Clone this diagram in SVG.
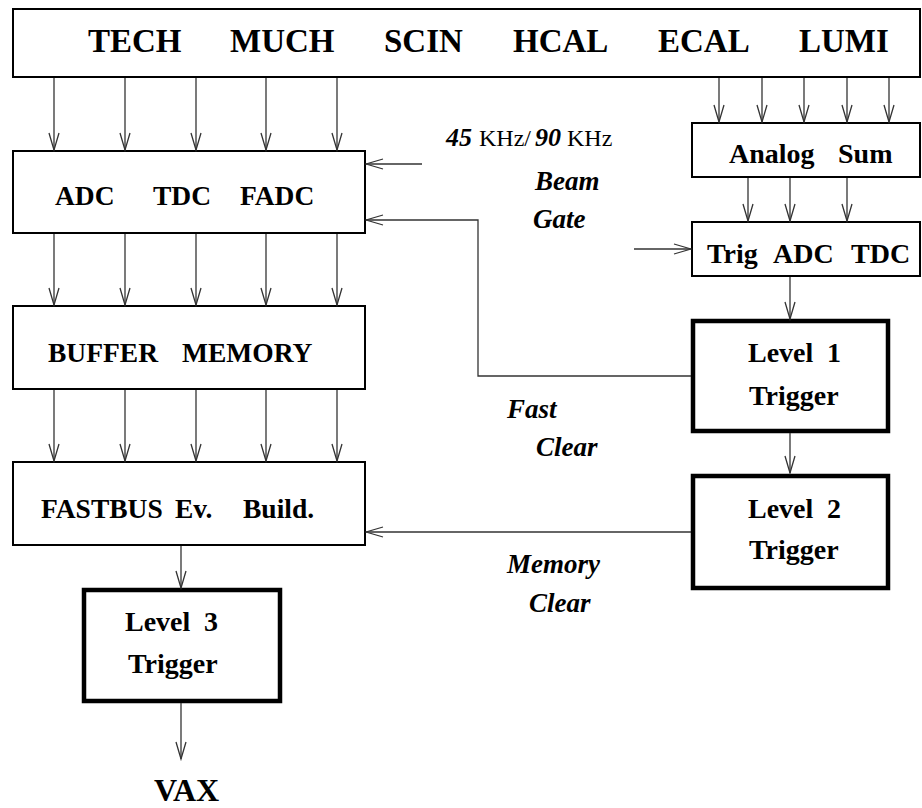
<svg xmlns="http://www.w3.org/2000/svg" width="922" height="808" viewBox="0 0 922 808" font-family="Liberation Serif, Tinos, Times New Roman, DejaVu Serif, serif">
<style>
.box{fill:#fff;stroke:#000;stroke-width:2}
.thick{fill:#fff;stroke:#000;stroke-width:4.5}
.lbl{font-weight:bold;font-size:27.5px;fill:#000}
.top{font-size:33px}
.lvl{font-size:28px}
.it{font-weight:bold;font-style:italic;font-size:27px;fill:#000}
.rm{font-size:24px;fill:#000}
.c{fill:none;stroke:#333;stroke-width:1.3;marker-end:url(#ah)}
</style>
<defs>
<marker id="ah" markerUnits="userSpaceOnUse" markerWidth="20" markerHeight="14" viewBox="-18 -7 20 14" refX="0" refY="0" orient="auto">
<path d="M-17,-5 L0,0 L-17,5" fill="none" stroke="#333" stroke-width="1.3"/>
</marker>
</defs>
<g id="detectors">
<rect class="box" x="13" y="9" width="907" height="68"/>
<text class="lbl top" y="52"><tspan x="88">TECH</tspan><tspan x="230">MUCH</tspan><tspan x="384">SCIN</tspan><tspan x="513">HCAL</tspan><tspan x="658">ECAL</tspan><tspan x="799">LUMI</tspan></text>
</g>
<g id="adc">
<rect class="box" x="13" y="151" width="352" height="82"/>
<text class="lbl" y="205"><tspan x="55">ADC</tspan><tspan x="153">TDC</tspan><tspan x="240">FADC</tspan></text>
</g>
<g id="buffer">
<rect class="box" x="13" y="306" width="352" height="83"/>
<text class="lbl" y="362"><tspan x="48">BUFFER</tspan><tspan x="182">MEMORY</tspan></text>
</g>
<g id="fastbus">
<rect class="box" x="13" y="462" width="352" height="83"/>
<text class="lbl" y="518"><tspan x="41">FASTBUS</tspan><tspan x="175">Ev.</tspan><tspan x="243">Build.</tspan></text>
</g>
<g id="level3">
<rect class="thick" x="84" y="590" width="196" height="111"/>
<text class="lbl lvl" y="631"><tspan x="125">Level</tspan><tspan x="204">3</tspan></text>
<text class="lbl lvl" x="128" y="673">Trigger</text>
</g>
<g id="vax">
<text class="lbl" style="font-size:32px" x="154" y="801">VAX</text>
</g>
<g id="analogsum">
<rect class="box" x="692" y="123" width="228" height="54"/>
<text class="lbl lvl" y="163"><tspan x="729">Analog</tspan><tspan x="838">Sum</tspan></text>
</g>
<g id="trig">
<rect class="box" x="692" y="222" width="228" height="54"/>
<text class="lbl lvl" y="263"><tspan x="707">Trig</tspan><tspan x="773">ADC</tspan><tspan x="851">TDC</tspan></text>
</g>
<g id="level1">
<rect class="thick" x="693" y="321" width="195" height="110"/>
<text class="lbl lvl" y="362"><tspan x="748">Level</tspan><tspan x="827">1</tspan></text>
<text class="lbl lvl" x="749" y="405">Trigger</text>
</g>
<g id="level2">
<rect class="thick" x="693" y="476" width="195" height="112"/>
<text class="lbl lvl" y="518"><tspan x="748">Level</tspan><tspan x="827">2</tspan></text>
<text class="lbl lvl" x="749" y="559">Trigger</text>
</g>
<g id="labels">
<text y="146"><tspan class="it" style="font-size:26px" x="446">45</tspan><tspan class="rm" x="479">KHz/</tspan><tspan class="it" style="font-size:26px" x="535">90</tspan><tspan class="rm" x="567">KHz</tspan></text>
<text class="it" x="535" y="190">Beam</text>
<text class="it" x="533" y="228">Gate</text>
<text class="it" x="507" y="418">Fast</text>
<text class="it" x="536" y="456">Clear</text>
<text class="it" x="507" y="573">Memory</text>
<text class="it" x="529" y="612">Clear</text>
</g>
<g id="connectors">
<path class="c" d="M54,78V150"/>
<path class="c" d="M125,78V150"/>
<path class="c" d="M196,78V150"/>
<path class="c" d="M266,78V150"/>
<path class="c" d="M337,78V150"/>
<path class="c" d="M54,234V305"/>
<path class="c" d="M125,234V305"/>
<path class="c" d="M196,234V305"/>
<path class="c" d="M266,234V305"/>
<path class="c" d="M337,234V305"/>
<path class="c" d="M54,390V461"/>
<path class="c" d="M125,390V461"/>
<path class="c" d="M196,390V461"/>
<path class="c" d="M266,390V461"/>
<path class="c" d="M337,390V461"/>
<path class="c" d="M719,78V122"/>
<path class="c" d="M762,78V122"/>
<path class="c" d="M804,78V122"/>
<path class="c" d="M847,78V122"/>
<path class="c" d="M889,78V122"/>
<path class="c" d="M748,178V221"/>
<path class="c" d="M790,178V221"/>
<path class="c" d="M847,178V221"/>
<path class="c" d="M634,249H691"/>
<path class="c" d="M790,277V319"/>
<path class="c" d="M790,433V473"/>
<path class="c" d="M422,164H366"/>
<path class="c" d="M691,376H478V220H366"/>
<path class="c" d="M691,532H366"/>
<path class="c" d="M181,546V588"/>
<path class="c" d="M181,703V759"/>
</g>
</svg>
